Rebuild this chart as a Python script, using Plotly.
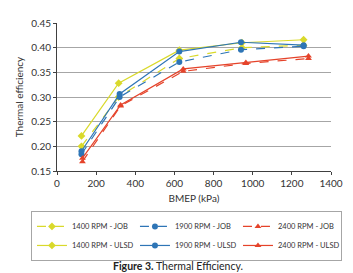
import plotly.graph_objects as go

bmep_1400 = [125, 315, 625, 945, 1260]
bmep_1900 = [125, 320, 625, 940, 1260]
bmep_2400 = [130, 325, 645, 965, 1285]

eff_1400_job = [0.200, 0.300, 0.378, 0.400, 0.405]
eff_1400_ulsd = [0.221, 0.328, 0.395, 0.410, 0.416]
eff_1900_job = [0.184, 0.300, 0.371, 0.396, 0.403]
eff_1900_ulsd = [0.190, 0.306, 0.392, 0.411, 0.405]
eff_2400_job = [0.169, 0.282, 0.352, 0.368, 0.378]
eff_2400_ulsd = [0.176, 0.284, 0.357, 0.370, 0.383]

YEL = "#D9D92B"
BLU = "#2E75B6"
RED = "#E5432A"

series = [
    ("1400 RPM - JOB", bmep_1400, eff_1400_job, YEL, "diamond", "dash"),
    ("1900 RPM - JOB", bmep_1900, eff_1900_job, BLU, "circle", "dash"),
    ("2400 RPM - JOB", bmep_2400, eff_2400_job, RED, "triangle-up", "dash"),
    ("1400 RPM - ULSD", bmep_1400, eff_1400_ulsd, YEL, "diamond", "solid"),
    ("1900 RPM - ULSD", bmep_1900, eff_1900_ulsd, BLU, "circle", "solid"),
    ("2400 RPM - ULSD", bmep_2400, eff_2400_ulsd, RED, "triangle-up", "solid"),
]

FONT = "Lato, DejaVu Sans, sans-serif"

fig = go.Figure()
for name, x, y, c, sym, dash in series:
    fig.add_trace(go.Scatter(
        x=x, y=y, name=name, mode="lines+markers",
        line=dict(color=c, width=1.2, dash=dash),
        marker=dict(color=c, symbol=sym, size=6),
    ))

fig.update_layout(
    width=353, height=273,
    margin=dict(l=49, r=30, t=15, b=110, autoexpand=False),
    paper_bgcolor="white", plot_bgcolor="white",
    font=dict(family=FONT, size=10, color="#333333"),
    showlegend=True,
    legend=dict(
        orientation="h", x=-0.095, y=-0.27, xanchor="left", yanchor="top",
        bordercolor="#A6A6A6", borderwidth=1, font=dict(size=7.5, color="#333333"),
        entrywidth=58, entrywidthmode="pixels", itemwidth=30,
        tracegroupgap=0,
    ),
    xaxis=dict(
        range=[0, 1400], dtick=200, showgrid=False, zeroline=False,
        showline=True, linecolor="#404040", linewidth=1,
        ticks="outside", ticklen=3, tickcolor="#404040",
        tickfont=dict(size=10),
        title=dict(text="BMEP (kPa)", font=dict(size=10), standoff=6),
    ),
    yaxis=dict(
        range=[0.15, 0.45], dtick=0.05, tickformat=".2f",
        showgrid=True, gridcolor="#A6A6A6", gridwidth=1, zeroline=False,
        showline=True, linecolor="#404040", linewidth=1,
        ticks="outside", ticklen=3, tickcolor="#404040",
        tickfont=dict(size=10),
        title=dict(text="Thermal efficiency", font=dict(size=10), standoff=5),
    ),
    annotations=[dict(
        text="<b>Figure 3.</b> Thermal Efficiency.", xref="paper", yref="paper",
        x=0.44, y=-0.64, xanchor="center", yanchor="middle", showarrow=False,
        font=dict(size=10.5, color="#222222"),
    )],
)

fig.write_html("out.html")
